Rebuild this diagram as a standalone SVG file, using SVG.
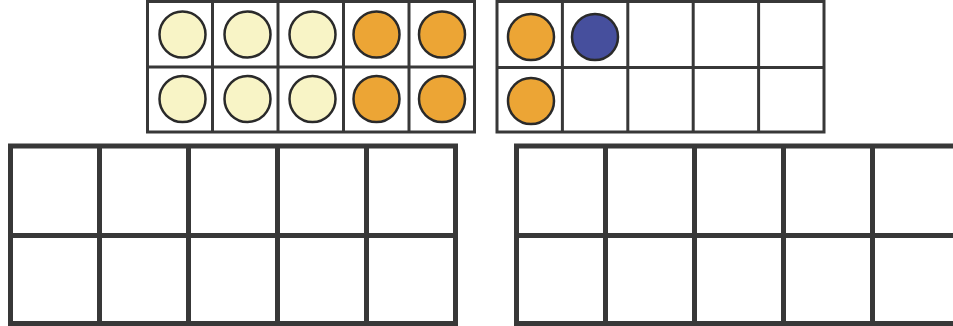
<svg xmlns="http://www.w3.org/2000/svg" width="953" height="326" viewBox="0 0 953 326">
<style>
.frame-s{fill:#ffffff;stroke:#383838;stroke-width:3}
.line-s{stroke:#383838;stroke-width:3}
.frame-l{fill:#ffffff;stroke:#383838;stroke-width:5}
.line-l{stroke:#383838;stroke-width:5}
.ctr{stroke:#2a2a2a;stroke-width:2.5}
.cream{fill:#f8f4c6}
.orange{fill:#eca535}
.blue{fill:#464f9d}
</style>
<rect width="953" height="326" fill="#ffffff"/>
<g id="frame-top-left">
<rect class="frame-s" x="147.5" y="1.5" width="327" height="130.5"/>
<line class="line-s" x1="147.5" y1="67" x2="474.5" y2="67"/>
<line class="line-s" x1="212.5" y1="1.5" x2="212.5" y2="132"/>
<line class="line-s" x1="278" y1="1.5" x2="278" y2="132"/>
<line class="line-s" x1="343.5" y1="1.5" x2="343.5" y2="132"/>
<line class="line-s" x1="409" y1="1.5" x2="409" y2="132"/>
<circle class="ctr cream" cx="182.5" cy="34.5" r="23"/>
<circle class="ctr cream" cx="247.5" cy="34.5" r="23"/>
<circle class="ctr cream" cx="312.5" cy="34.5" r="23"/>
<circle class="ctr orange" cx="376.5" cy="34.5" r="23"/>
<circle class="ctr orange" cx="442" cy="34.5" r="23"/>
<circle class="ctr cream" cx="182.5" cy="99" r="23"/>
<circle class="ctr cream" cx="247.5" cy="99" r="23"/>
<circle class="ctr cream" cx="312.5" cy="99" r="23"/>
<circle class="ctr orange" cx="376.5" cy="99" r="23"/>
<circle class="ctr orange" cx="442" cy="99" r="23"/>
</g>
<g id="frame-top-right">
<rect class="frame-s" x="497" y="1.5" width="327" height="130.5"/>
<line class="line-s" x1="497" y1="67.5" x2="824" y2="67.5"/>
<line class="line-s" x1="562.4" y1="1.5" x2="562.4" y2="132"/>
<line class="line-s" x1="627.8" y1="1.5" x2="627.8" y2="132"/>
<line class="line-s" x1="693.2" y1="1.5" x2="693.2" y2="132"/>
<line class="line-s" x1="758.6" y1="1.5" x2="758.6" y2="132"/>
<circle class="ctr orange" cx="531" cy="37" r="23"/>
<circle class="ctr blue" cx="595" cy="37" r="23"/>
<circle class="ctr orange" cx="531" cy="101" r="23"/>
</g>
<g id="frame-bottom-left">
<rect class="frame-l" x="10.5" y="146" width="445" height="177.5"/>
<line class="line-l" x1="10.5" y1="235.5" x2="455.5" y2="235.5"/>
<line class="line-l" x1="99.5" y1="146" x2="99.5" y2="323.5"/>
<line class="line-l" x1="188.5" y1="146" x2="188.5" y2="323.5"/>
<line class="line-l" x1="277.5" y1="146" x2="277.5" y2="323.5"/>
<line class="line-l" x1="366.5" y1="146" x2="366.5" y2="323.5"/>
</g>
<g id="frame-bottom-right">
<rect class="frame-l" x="516.5" y="146" width="445" height="177.5"/>
<line class="line-l" x1="516.5" y1="235.5" x2="961.5" y2="235.5"/>
<line class="line-l" x1="605.5" y1="146" x2="605.5" y2="323.5"/>
<line class="line-l" x1="694.5" y1="146" x2="694.5" y2="323.5"/>
<line class="line-l" x1="783.5" y1="146" x2="783.5" y2="323.5"/>
<line class="line-l" x1="872.5" y1="146" x2="872.5" y2="323.5"/>
</g>
<g id="connectors"/>
</svg>
